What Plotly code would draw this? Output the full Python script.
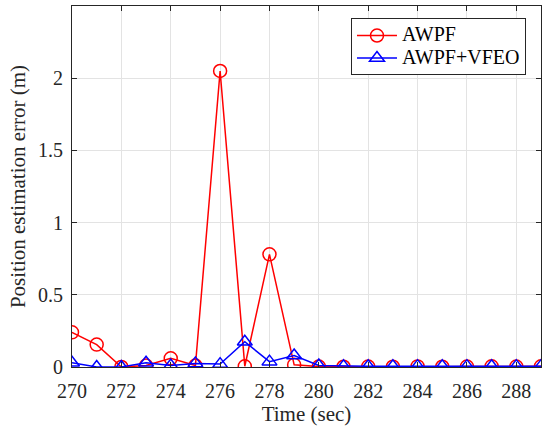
import plotly.graph_objects as go

time_sec = list(range(270, 290))
awpf = [0.24, 0.155, 0.0, 0.01, 0.06, 0.01, 2.05, 0.005, 0.78, 0.015,
        0.003, 0.002, 0.003, 0.002, 0.004, 0.002, 0.003, 0.005, 0.003, 0.005]
awpf_vfeo = [0.03, 0.0, 0.0, 0.03, 0.01, 0.025, 0.02, 0.175, 0.037, 0.08,
             0.01, 0.005, 0.005, 0.005, 0.006, 0.005, 0.006, 0.005, 0.006, 0.006]
series_names = ["AWPF", "AWPF+VFEO"]
x_ticks = list(range(270, 290, 2))
y_ticks = [0, 0.5, 1, 1.5, 2, 2.5]
y_tick_text = ["0", "0.5", "1", "1.5", "2", "2.5"]

font_family = "Liberation Serif, Times New Roman, serif"


def big(name):
    return '<span style="font-size:20px">' + name + '</span>'


fig = go.Figure()
fig.add_trace(go.Scatter(
    x=time_sec, y=awpf, name=big(series_names[0]), mode="lines+markers",
    line=dict(color="#ff0000", width=1.5),
    marker=dict(symbol="circle-open", size=13, color="#ff0000", line=dict(width=1.5)),
))
fig.add_trace(go.Scatter(
    x=time_sec, y=awpf_vfeo, name=big(series_names[1]), mode="lines+markers",
    line=dict(color="#0000ff", width=1.5),
    marker=dict(symbol="triangle-up-open", size=13, color="#0000ff", line=dict(width=1.5)),
))

axis_common = dict(
    showline=True, linecolor="#262626", linewidth=1, mirror="ticks",
    ticks="inside", ticklen=5, tickcolor="#262626",
    showgrid=True, gridcolor="#e3e3e3", gridwidth=1,
    zeroline=False,
    tickfont=dict(family=font_family, size=20, color="#262626"),
)

fig.update_layout(
    width=558, height=429,
    margin=dict(l=72, r=17, t=6, b=62),
    paper_bgcolor="white", plot_bgcolor="white",
    font=dict(family=font_family, color="#262626"),
    xaxis=dict(range=[270, 289], tickvals=x_ticks, ticklabelstandoff=6,
               title=dict(text="Time (sec)", font=dict(family=font_family, size=21, color="#262626"), standoff=0),
               **axis_common),
    yaxis=dict(range=[0, 2.5], tickvals=y_ticks, ticktext=y_tick_text, ticklabelstandoff=4,
               title=dict(text="Position estimation error (m)", font=dict(family=font_family, size=21, color="#262626"), standoff=6),
               **axis_common),
    legend=dict(x=0.968, y=0.966, xanchor="right", yanchor="top",
                bgcolor="white", bordercolor="#262626", borderwidth=1,
                font=dict(family=font_family, size=15, color="#000000"),
                tracegroupgap=0, itemwidth=40),
    showlegend=True,
)

fig.write_html("out.html")
